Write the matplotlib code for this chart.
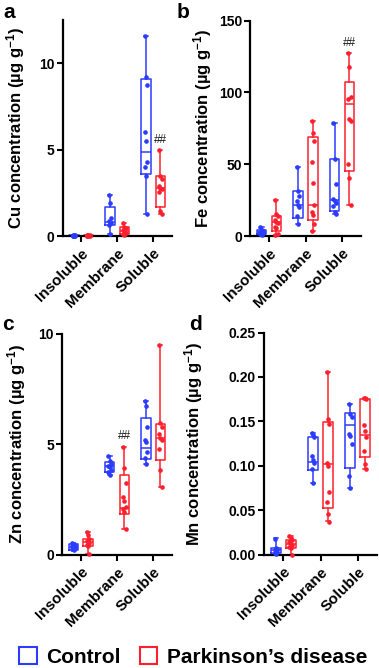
import numpy as np
import matplotlib.pyplot as plt
from matplotlib.patches import Patch
from matplotlib.transforms import ScaledTranslation

plt.rcParams['font.family'] = ['Liberation Sans', 'DejaVu Sans']
plt.rcParams['font.weight'] = 'bold'
plt.rcParams['mathtext.fontset'] = 'custom'
plt.rcParams['mathtext.rm'] = 'Liberation Sans:bold'
plt.rcParams['mathtext.bf'] = 'Liberation Sans:bold'
plt.rcParams['mathtext.default'] = 'bf'

fractions = ['Insoluble', 'Membrane', 'Soluble']
groups = ['Control', 'Parkinson’s disease']
blue = '#2b3bff'
red = '#ff1f2e'

# sample values (µg/g) per fraction: Insoluble, Membrane, Soluble
cu_ctrl = [[0.01, 0.01, 0.02, 0.02, 0.02, 0.03, 0.03, 0.04],
           [2.39, 1.91, 1.03, 0.85, 0.80, 0.75, 0.65, 0.10],
           [11.58, 9.2, 8.72, 5.99, 5.49, 4.28, 3.97, 3.48, 1.26]]
cu_pd = [[0.01, 0.01, 0.02, 0.02, 0.03, 0.03, 0.04, 0.04],
         [0.76, 0.50, 0.45, 0.32, 0.28, 0.20, 0.12, 0.06],
         [4.98, 3.50, 3.29, 2.88, 2.78, 2.72, 2.53, 1.46, 1.25]]
fe_ctrl = [[6.0, 4.5, 3.8, 3.0, 2.6, 2.2, 1.5, 0.8],
           [47.9, 31.4, 28.1, 24.4, 21.4, 20.2, 14.2, 8.4],
           [78.4, 53.5, 36.0, 25.8, 24.2, 22.8, 21.2, 16.5, 15.3]]
fe_pd = [[25.1, 15.1, 14.0, 11.2, 10.0, 9.0, 6.3, 5.3, 1.6, 0.7],
         [80.2, 71.9, 66.5, 51.4, 36.7, 21.6, 17.0, 14.7, 8.4, 3.7],
         [127.4, 117.7, 96.7, 95.6, 81.4, 80.2, 50.5, 40.5, 21.4]]
zn_ctrl = [[0.53, 0.48, 0.42, 0.38, 0.35, 0.32, 0.28, 0.20],
           [4.48, 4.25, 4.10, 4.00, 3.95, 3.85, 3.75, 3.62],
           [6.94, 6.70, 5.79, 5.19, 5.10, 4.63, 4.38, 4.10]]
zn_pd = [[1.04, 0.87, 0.70, 0.62, 0.58, 0.55, 0.45, 0.38, 0.03],
         [4.89, 3.92, 3.25, 2.60, 2.45, 2.15, 2.05, 1.95, 1.18],
         [9.47, 5.95, 5.79, 5.46, 5.28, 5.19, 4.80, 3.85, 3.05]]
mn_ctrl = [[0.018, 0.007, 0.006, 0.005, 0.004, 0.003, 0.002, 0.001],
           [0.137, 0.135, 0.132, 0.111, 0.107, 0.103, 0.096, 0.081],
           [0.170, 0.158, 0.155, 0.136, 0.134, 0.124, 0.089, 0.075]]
mn_pd = [[0.0206, 0.019, 0.017, 0.014, 0.012, 0.011, 0.009, 0.007, 0.0],
         [0.205, 0.153, 0.147, 0.103, 0.100, 0.070, 0.059, 0.046, 0.037],
         [0.1766, 0.176, 0.175, 0.146, 0.139, 0.132, 0.117, 0.1025, 0.096]]

# box stats as drawn: min, q1, median, q3, max
cu_ctrl_box = [[0.01, 0.015, 0.02, 0.03, 0.04], [0.10, 0.64, 0.80, 1.67, 2.39], [1.26, 3.56, 4.88, 9.07, 11.58]]
cu_pd_box = [[0.01, 0.015, 0.025, 0.035, 0.04], [0.06, 0.12, 0.29, 0.53, 0.76], [1.25, 1.67, 2.80, 3.48, 4.98]]
fe_ctrl_box = [[0.7, 1.2, 2.6, 4.2, 6.0], [8.4, 12.3, 21.4, 31.4, 47.9], [15.3, 17.4, 24.9, 53.7, 78.4]]
fe_pd_box = [[0.7, 3.3, 9.5, 14.0, 25.1], [3.7, 11.4, 21.6, 69.1, 80.2], [21.4, 45.6, 92.3, 107.0, 127.4]]
zn_ctrl_box = [[0.18, 0.23, 0.36, 0.48, 0.53], [3.62, 3.74, 4.00, 4.19, 4.48], [4.10, 4.33, 4.83, 6.18, 6.94]]
zn_pd_box = [[0.03, 0.41, 0.56, 0.71, 1.04], [1.18, 1.86, 2.11, 3.59, 4.89], [3.05, 4.27, 5.29, 5.91, 9.47]]
mn_ctrl_box = [[0.001, 0.002, 0.0056, 0.0075, 0.0187], [0.0805, 0.0954, 0.1048, 0.1329, 0.1366], [0.0749, 0.0973, 0.146, 0.159, 0.1695]]
mn_pd_box = [[0.0, 0.0075, 0.012, 0.0168, 0.0206], [0.0374, 0.0524, 0.1018, 0.1497, 0.205], [0.0962, 0.1097, 0.1347, 0.175, 0.1766]]

# ## marks (PD vs control): fraction index per panel, None = no mark
cu_sig = 2
fe_sig = 2
zn_sig = 1
mn_sig = None

W, H = 379, 668
fig = plt.figure(figsize=(W / 100, H / 100), dpi=100)


def px_axes(left, top, right, bottom):
    return fig.add_axes([left / W, 1 - bottom / H, (right - left) / W, (bottom - top) / H])


panels = [
    ('a', 'Cu', px_axes(62.5, 20, 172, 236), cu_ctrl, cu_pd, cu_ctrl_box, cu_pd_box, cu_sig, 12.5, [0, 5, 10], '%g', -0.32),
    ('b', 'Fe', px_axes(250, 20.7, 361, 236), fe_ctrl, fe_pd, fe_ctrl_box, fe_pd_box, fe_sig, 150, [0, 50, 100, 150], '%g', -0.32),
    ('c', 'Zn', px_axes(62, 333.5, 172, 554.7), zn_ctrl, zn_pd, zn_ctrl_box, zn_pd_box, zn_sig, 10, [0, 5, 10], '%g', -0.31),
    ('d', 'Mn', px_axes(264, 332.5, 377, 554.7), mn_ctrl, mn_pd, mn_ctrl_box, mn_pd_box, mn_sig, 0.25,
     [0, 0.05, 0.10, 0.15, 0.20, 0.25], '%.2f', -0.52),
]

letter_pos = {'a': (3, 18), 'b': (177, 18), 'c': (2, 330), 'd': (189, 330)}
offset = 0.2
box_w = 0.26
label_shift = ScaledTranslation(5 / 100, -9 / 100, fig.dpi_scale_trans)

for letter, el, ax, ctrl, pd_, ctrl_box, pd_box, sig, ytop, yticks, fmt, lab_x in panels:
    for pts, boxes, col, sgn in [(ctrl, ctrl_box, blue, -1), (pd_, pd_box, red, 1)]:
        pos = np.arange(3) + sgn * offset
        stats = [dict(whislo=b[0], q1=b[1], med=b[2], q3=b[3], whishi=b[4]) for b in boxes]
        lp = dict(color=col, linewidth=1.1)
        ax.bxp(stats, positions=pos, widths=box_w, capwidths=0.1, showfliers=False,
               boxprops=lp, whiskerprops=lp, capprops=lp, medianprops=lp)
        for i, vals in enumerate(pts):
            jit = ((np.arange(len(vals)) % 3) - 1) * 0.035
            ax.plot(pos[i] + jit, vals, 'o', ms=2.3, color=col, clip_on=False, zorder=3)
    if sig is not None:
        ax.text(sig + offset, pd_box[sig][4] + ytop * 0.02, '##', ha='center', va='bottom',
                fontsize=8.5, fontweight='normal', color='#1a1a1a')

    ax.set_xlim(-0.52, 2.52)
    ax.set_ylim(0, ytop)
    ax.set_yticks(yticks)
    ax.set_yticklabels([fmt % t for t in yticks])
    ax.set_xticks(range(3))
    ax.set_xticklabels(fractions, rotation=45, ha='right', rotation_mode='anchor')
    for lab in ax.get_xticklabels():
        lab.set_transform(lab.get_transform() + label_shift)
    ax.tick_params(width=1.5, length=4.3)
    ax.tick_params(axis='y', labelsize=10, pad=1.5)
    ax.tick_params(axis='x', labelsize=11, pad=3)
    for s in ['top', 'right']:
        ax.spines[s].set_visible(False)
    for s in ['left', 'bottom']:
        ax.spines[s].set_linewidth(1.6)
    ax.set_ylabel(f'{el} concentration (µg g$^{{-1}}$)', fontsize=12, fontweight='bold')
    ax.yaxis.set_label_coords(lab_x, 0.5)
    lx, ly = letter_pos[letter]
    fig.text(lx / W, 1 - ly / H, letter, fontsize=15, fontweight='bold', va='baseline')

handles = [Patch(facecolor='none', edgecolor=blue, linewidth=1.5),
           Patch(facecolor='none', edgecolor=red, linewidth=1.5)]
fig.legend(handles, groups, loc='center', bbox_to_anchor=(0.51, 0.0165), ncol=2, frameon=False,
           prop=dict(size=15, weight='bold'), handlelength=0.85, handleheight=0.85,
           handletextpad=0.45, columnspacing=0.9, borderpad=0, borderaxespad=0)

fig.savefig('out.png', dpi=100)
